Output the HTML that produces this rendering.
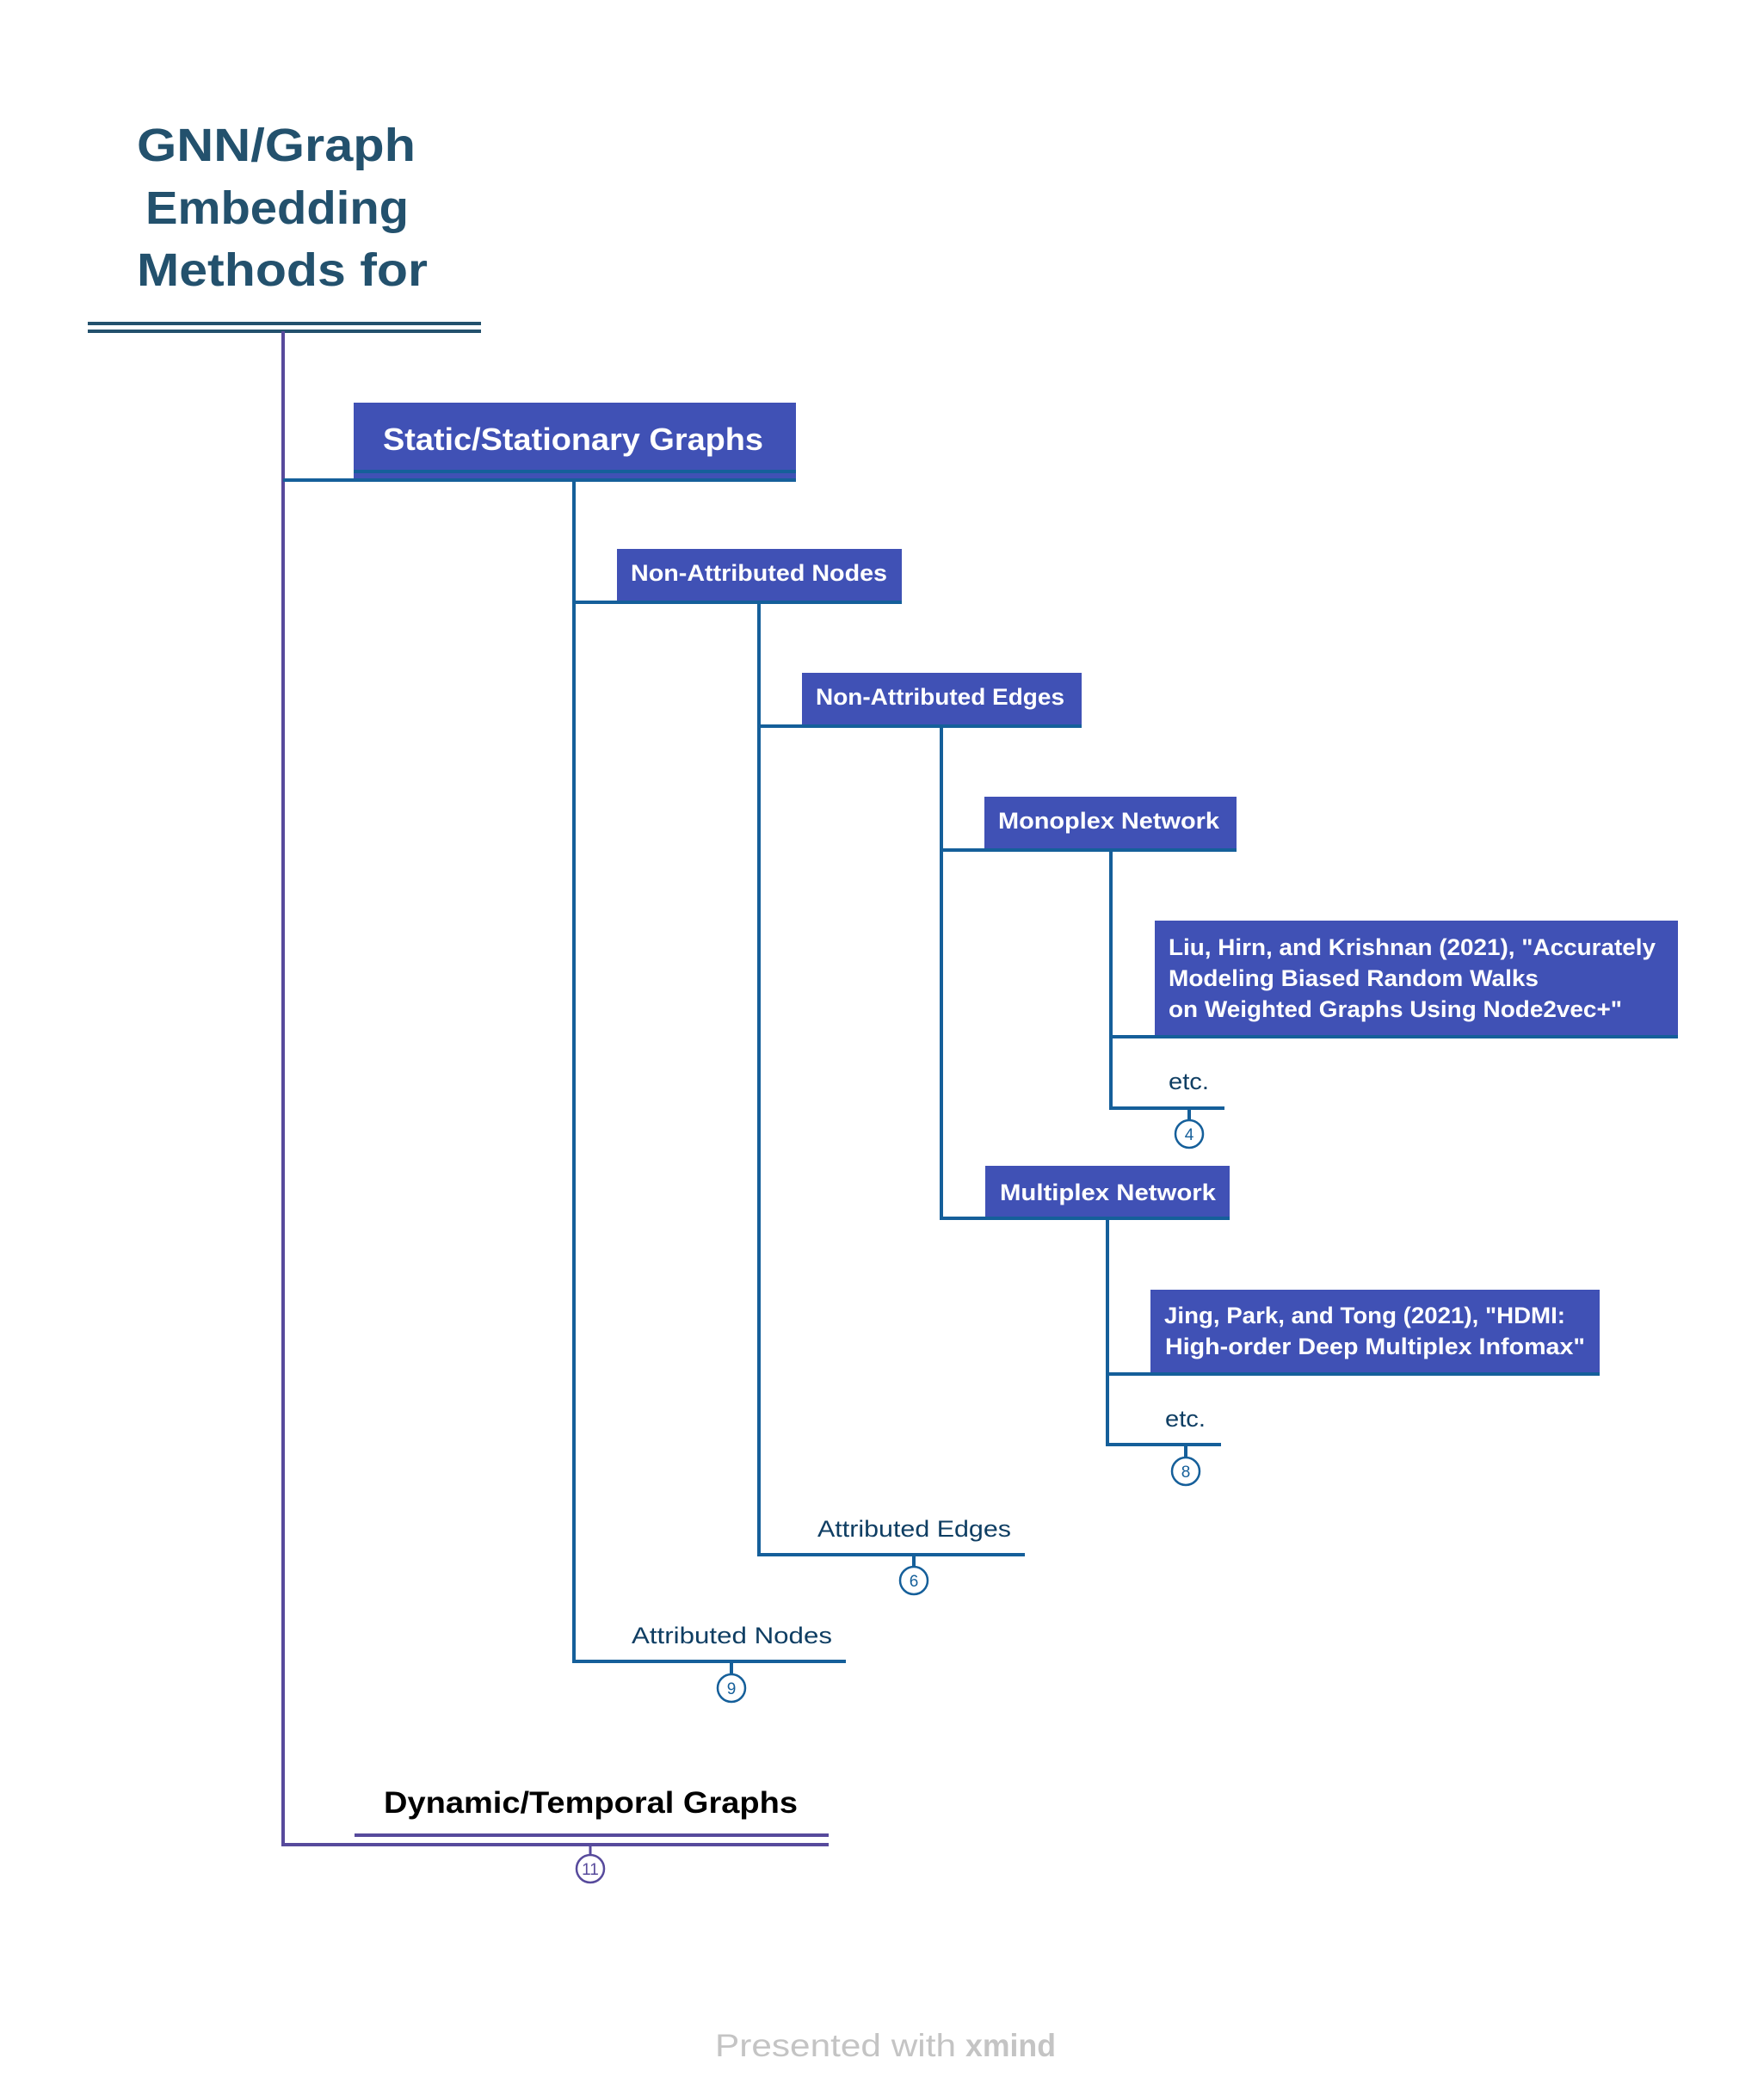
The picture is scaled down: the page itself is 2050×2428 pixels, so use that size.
<!DOCTYPE html>
<html><head><meta charset="utf-8"><style>
html,body{margin:0;padding:0;background:#fff;}
svg{display:block;}
text{font-family:"Liberation Sans",sans-serif;}
</style></head><body>
<svg width="2050" height="2428" viewBox="0 0 2050 2428" xmlns="http://www.w3.org/2000/svg">
<rect width="2050" height="2428" fill="#fff"/>
<!-- Title -->
<g fill="#23516d" font-weight="bold" font-size="54">
<text x="159" y="187" textLength="324" lengthAdjust="spacingAndGlyphs">GNN/Graph</text>
<text x="169" y="260" textLength="306" lengthAdjust="spacingAndGlyphs">Embedding</text>
<text x="159" y="332" textLength="338" lengthAdjust="spacingAndGlyphs">Methods for</text>
</g>
<rect x="102" y="374" width="457" height="4" fill="#23516d"/>
<rect x="102" y="383" width="457" height="4" fill="#23516d"/>
<!-- root vertical -->
<g stroke="#574a9c" stroke-width="4" fill="none">
<path d="M329 385 V2144 H412"/>
</g>
<!-- blue connectors -->
<g stroke="#155f9a" stroke-width="4" fill="none">
<path d="M329 558 H412"/>
<path d="M667 558 V1931 H983"/>
<path d="M667 700 H717"/>
<path d="M882 700 V1807 H1191"/>
<path d="M882 844 H932"/>
<path d="M1094 844 V1416 H1145"/>
<path d="M1094 988 H1144"/>
<path d="M1291 988 V1288 H1423"/>
<path d="M1291 1205 H1342"/>
<path d="M1287 1416 V1679 H1419"/>
<path d="M1287 1597 H1337"/>
<path d="M1382 1288 V1302"/>
<path d="M1378 1679 V1694"/>
<path d="M1062 1807 V1821"/>
<path d="M850 1931 V1946"/>
</g>
<!-- Static box -->
<rect x="411" y="468" width="514" height="90" fill="#4051b5"/>
<rect x="411" y="546" width="514" height="4" fill="#155f9a"/>
<rect x="411" y="556" width="514" height="4" fill="#155f9a"/>
<text x="445" y="523" font-size="36" font-weight="bold" fill="#fff" textLength="442" lengthAdjust="spacingAndGlyphs">Static/Stationary Graphs</text>
<!-- boxes -->
<g fill="#4051b5">
<rect x="717" y="638" width="331" height="62"/>
<rect x="932" y="782" width="325" height="62"/>
<rect x="1144" y="926" width="293" height="62"/>
<rect x="1342" y="1070" width="608" height="135"/>
<rect x="1145" y="1355" width="284" height="61"/>
<rect x="1337" y="1499" width="522" height="98"/>
</g>
<g stroke="#155f9a" stroke-width="4">
<path d="M717 700 H1048"/><path d="M932 844 H1257"/><path d="M1144 988 H1437"/>
<path d="M1342 1205 H1950"/><path d="M1145 1416 H1429"/><path d="M1337 1597 H1859"/>
</g>
<g fill="#fff" font-weight="bold" font-size="27">
<text x="733" y="675" textLength="298" lengthAdjust="spacingAndGlyphs">Non-Attributed Nodes</text>
<text x="948" y="819" textLength="289" lengthAdjust="spacingAndGlyphs">Non-Attributed Edges</text>
<text x="1160" y="963" textLength="257" lengthAdjust="spacingAndGlyphs">Monoplex Network</text>
<text x="1162" y="1395" textLength="251" lengthAdjust="spacingAndGlyphs">Multiplex Network</text>
<text x="1358" y="1110" textLength="566" lengthAdjust="spacingAndGlyphs">Liu, Hirn, and Krishnan (2021), "Accurately</text>
<text x="1358" y="1146" textLength="430" lengthAdjust="spacingAndGlyphs">Modeling Biased Random Walks</text>
<text x="1358" y="1182" textLength="527" lengthAdjust="spacingAndGlyphs">on Weighted Graphs Using Node2vec+"</text>
<text x="1353" y="1538" textLength="466" lengthAdjust="spacingAndGlyphs">Jing, Park, and Tong (2021), "HDMI:</text>
<text x="1354" y="1574" textLength="488" lengthAdjust="spacingAndGlyphs">High-order Deep Multiplex Infomax"</text>
</g>
<g fill="#0f3e63" font-size="27">
<text x="1358" y="1266" textLength="47" lengthAdjust="spacingAndGlyphs">etc.</text>
<text x="1354" y="1658" textLength="47" lengthAdjust="spacingAndGlyphs">etc.</text>
<text x="950" y="1786" textLength="225" lengthAdjust="spacingAndGlyphs">Attributed Edges</text>
<text x="734" y="1910" textLength="233" lengthAdjust="spacingAndGlyphs">Attributed Nodes</text>
</g>
<!-- circles -->
<g fill="#fff" stroke="#155f9a" stroke-width="2.5">
<circle cx="1382" cy="1318" r="16"/>
<circle cx="1378" cy="1710" r="16"/>
<circle cx="1062" cy="1837" r="16"/>
<circle cx="850" cy="1962" r="16"/>
</g>
<g fill="#155f9a" font-size="19" text-anchor="middle">
<text x="1382" y="1325">4</text>
<text x="1378" y="1717">8</text>
<text x="1062" y="1844">6</text>
<text x="850" y="1969">9</text>
</g>
<!-- Dynamic -->
<text x="446" y="2107" font-size="35" font-weight="bold" fill="#000" textLength="481" lengthAdjust="spacingAndGlyphs">Dynamic/Temporal Graphs</text>
<rect x="412" y="2131" width="551" height="4" fill="#574a9c"/>
<rect x="412" y="2142" width="551" height="4" fill="#574a9c"/>
<path d="M686 2146 V2156" stroke="#574a9c" stroke-width="3"/>
<circle cx="686" cy="2172" r="16" fill="#fff" stroke="#574a9c" stroke-width="2.5"/>
<text x="686" y="2179" font-size="19" fill="#574a9c" text-anchor="middle">11</text>
<!-- footer -->
<text x="831" y="2390" font-size="37" fill="#c4c4c4" textLength="280" lengthAdjust="spacingAndGlyphs">Presented with</text>
<text x="1122" y="2390" font-size="37" font-weight="bold" fill="#c4c4c4" textLength="105" lengthAdjust="spacingAndGlyphs">xmind</text>
</svg>
</body></html>
